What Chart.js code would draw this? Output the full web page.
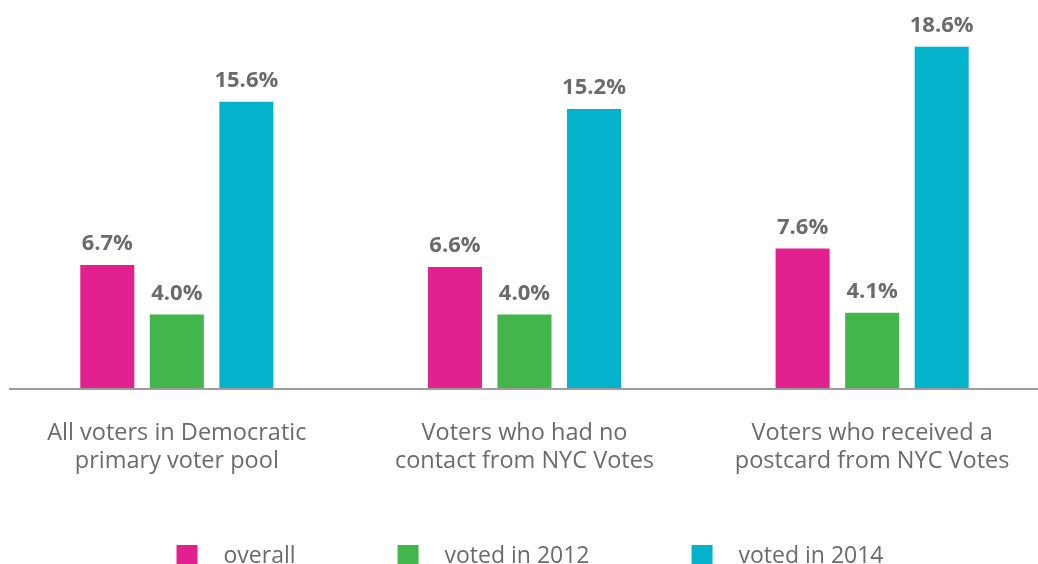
<!DOCTYPE html>
<html>
<head>
<meta charset="utf-8">
<script src="https://cdn.jsdelivr.net/npm/chart.js@4.4.1/dist/chart.umd.min.js"></script>
<style>
  html, body { margin: 0; padding: 0; background: #fff; overflow: hidden; }
  #wrap { position: relative; width: 1046px; height: 564px; }
</style>
</head>
<body>
<div id="wrap"><canvas id="chart"></canvas></div>
<script>
// ---------------------------------------------------------------------------
// Data
// ---------------------------------------------------------------------------

const groupLabels = [
  ['All voters in Democratic', 'primary voter pool'],
  ['Voters who had no', 'contact from NYC Votes'],
  ['Voters who received a', 'postcard from NYC Votes'],
];
const seriesNames  = ['overall', 'voted in 2012', 'voted in 2014'];
const overall      = [6.7, 6.6, 7.6];
const voted2012    = [4.0, 4.0, 4.1];
const voted2014    = [15.6, 15.2, 18.6];
const seriesColors = ['#e3208f', '#42b54b', '#03b3cc'];

const FONT     = '"Open Sans", Lato, sans-serif';
const TEXT_CLR = '#6b6b6b';
const PAGE_W   = 1038;   // visible width; the canvas runs a bit past it

// ---------------------------------------------------------------------------
// Plugins
// ---------------------------------------------------------------------------

const valueLabelPlugin = {
  id: 'valueLabel',
  afterDatasetsDraw(chart) {
    const { ctx } = chart;
    chart.data.datasets.forEach((ds, di) => {
      chart.getDatasetMeta(di).data.forEach((bar, i) => {
        ctx.save();
        ctx.fillStyle    = TEXT_CLR;
        ctx.font         = 'bold 22px ' + FONT;
        ctx.textAlign    = 'center';
        ctx.textBaseline = 'alphabetic';
        ctx.fillText(ds.data[i].toFixed(1) + '%', bar.x, bar.y - 15);
        ctx.restore();
      });
    });
  },
};

// baseline rule, starts a little in from the left edge
const baselinePlugin = {
  id: 'baseline',
  beforeDatasetsDraw(chart) {
    const { ctx, chartArea } = chart;
    ctx.save();
    ctx.strokeStyle = '#9c9c9c';
    ctx.lineWidth   = 2;
    ctx.beginPath();
    ctx.moveTo(9, chartArea.bottom + 1);
    ctx.lineTo(chart.width, chartArea.bottom + 1);
    ctx.stroke();
    ctx.restore();
  },
};

const legendPlugin = {
  id: 'bottomLegend',
  afterDraw(chart) {
    const { ctx } = chart;
    const box = 21, gapText = 26, gapItem = 102;
    ctx.save();
    ctx.font = '23px ' + FONT;
    const widths = seriesNames.map(n => box + gapText + ctx.measureText(n).width);
    const total  = widths.reduce((a, b) => a + b, 0) + gapItem * (widths.length - 1);
    let x = PAGE_W / 2 + 11 - total / 2;
    const top = 545;
    seriesNames.forEach((n, i) => {
      ctx.fillStyle = seriesColors[i];
      ctx.fillRect(x, top, box, box);
      ctx.fillStyle    = TEXT_CLR;
      ctx.textAlign    = 'left';
      ctx.textBaseline = 'alphabetic';
      ctx.fillText(n, x + box + gapText, 563);
      x += widths[i] + gapItem;
    });
    ctx.restore();
  },
};

// ---------------------------------------------------------------------------
// Chart
// ---------------------------------------------------------------------------

new Chart(document.getElementById('chart'), {
  type: 'bar',
  data: {
    labels: groupLabels,
    datasets: [overall, voted2012, voted2014].map((d, i) => ({
      label: seriesNames[i],
      data: d,
      backgroundColor: seriesColors[i],
      borderWidth: 0,
      categoryPercentage: 0.6,
      barPercentage: 0.777,
    })),
  },
  plugins: [baselinePlugin, valueLabelPlugin, legendPlugin],
  options: {
    responsive: true,
    maintainAspectRatio: false,
    animation: false,
    layout: { padding: { top: 21, left: 3, right: 0, bottom: 0 } },
    plugins: { legend: { display: false }, tooltip: { enabled: false } },
    scales: {
      x: {
        grid:   { display: false, drawTicks: false },
        border: { display: false },
        ticks:  { color: TEXT_CLR, padding: 31, font: { family: FONT, size: 23.5, lineHeight: 1.19 } },
        afterFit(scale) { scale.height = 176; },
      },
      y: { display: false, min: 0, max: 20 },
    },
  },
});
</script>
</body>
</html>
